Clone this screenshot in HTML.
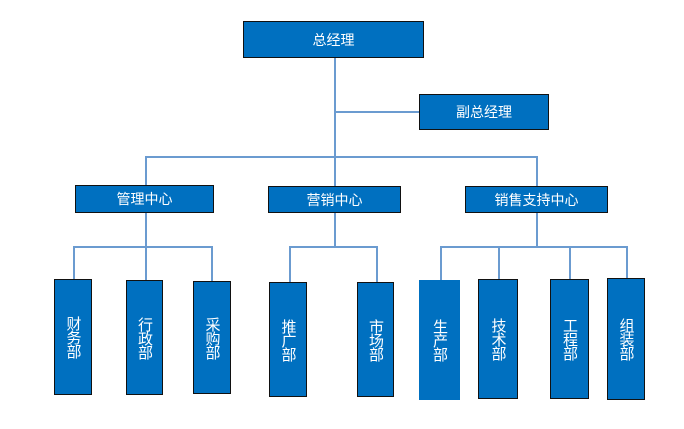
<!DOCTYPE html>
<html><head><meta charset="utf-8"><style>
body{margin:0;width:684px;height:429px;background:#fff;position:relative;overflow:hidden;font-family:"Liberation Sans","Noto Sans CJK SC",sans-serif}
.b{position:absolute;background:#0070c0;border:1.5px solid #111;box-sizing:border-box;color:#fff;display:flex;align-items:center;justify-content:center;font-size:14px}
.v{writing-mode:vertical-rl;text-orientation:upright;font-size:15px;letter-spacing:-1px}
.l{position:absolute;background:#6b9bd0}
</style></head><body>
<div class="l" style="left:334px;top:58px;width:1.5px;height:128px"></div>
<div class="l" style="left:334px;top:111px;width:85px;height:1.5px"></div>
<div class="l" style="left:145px;top:156px;width:392px;height:1.5px"></div>
<div class="l" style="left:145px;top:156px;width:1.5px;height:30px"></div>
<div class="l" style="left:536px;top:156px;width:1.5px;height:30px"></div>
<div class="l" style="left:145px;top:213px;width:1.5px;height:67px"></div>
<div class="l" style="left:334px;top:213px;width:1.5px;height:34px"></div>
<div class="l" style="left:536px;top:213px;width:1.5px;height:34px"></div>
<div class="l" style="left:73px;top:246px;width:139px;height:1.5px"></div>
<div class="l" style="left:289px;top:246px;width:88px;height:1.5px"></div>
<div class="l" style="left:440px;top:246px;width:187px;height:1.5px"></div>
<div class="l" style="left:73px;top:246px;width:1.5px;height:34px"></div>
<div class="l" style="left:211px;top:246px;width:1.5px;height:35px"></div>
<div class="l" style="left:289px;top:246px;width:1.5px;height:36px"></div>
<div class="l" style="left:376px;top:246px;width:1.5px;height:36px"></div>
<div class="l" style="left:440px;top:246px;width:1.5px;height:34px"></div>
<div class="l" style="left:498px;top:246px;width:1.5px;height:34px"></div>
<div class="l" style="left:569px;top:246px;width:1.5px;height:34px"></div>
<div class="l" style="left:626px;top:246px;width:1.5px;height:32px"></div>

<div class="b" style="left:243px;top:21px;width:181px;height:37px">总经理</div>
<div class="b" style="left:419px;top:94px;width:130px;height:36px">副总经理</div>
<div class="b" style="left:75px;top:185px;width:139px;height:28px">管理中心</div>
<div class="b" style="left:268px;top:186px;width:133px;height:27px">营销中心</div>
<div class="b" style="left:465px;top:186px;width:143px;height:27px">销售支持中心</div>

<div class="b" style="left:54px;top:279px;width:38px;height:116px"><span class="v">财务部</span></div>
<div class="b" style="left:126px;top:280px;width:37px;height:115px"><span class="v">行政部</span></div>
<div class="b" style="left:193px;top:281px;width:38px;height:113px"><span class="v">采购部</span></div>
<div class="b" style="left:269px;top:282px;width:38px;height:115px"><span class="v">推广部</span></div>
<div class="b" style="left:357px;top:282px;width:37px;height:115px"><span class="v">市场部</span></div>
<div class="b" style="left:419px;top:280px;width:41px;height:120px;border:none"><span class="v">生产部</span></div>
<div class="b" style="left:478px;top:279px;width:40px;height:120px"><span class="v">技术部</span></div>
<div class="b" style="left:550px;top:279px;width:39px;height:120px"><span class="v">工程部</span></div>
<div class="b" style="left:607px;top:278px;width:38px;height:122px"><span class="v">组装部</span></div>
</body></html>
